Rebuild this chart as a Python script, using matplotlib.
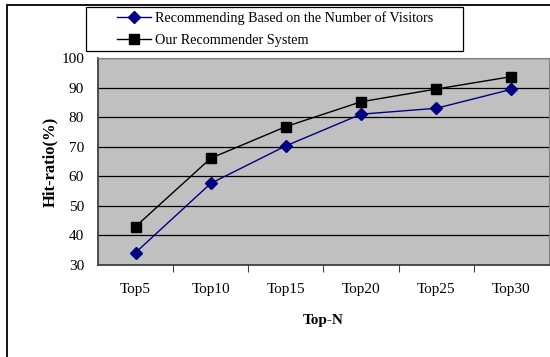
import matplotlib.pyplot as plt
from matplotlib.patches import Rectangle

# data
categories = ['Top5', 'Top10', 'Top15', 'Top20', 'Top25', 'Top30']
visitors = [34.2, 57.6, 70.3, 81.0, 83.0, 89.4]
ours = [43.0, 66.1, 76.8, 85.2, 89.5, 93.7]
yticks = [30, 40, 50, 60, 70, 80, 90, 100]

plt.rcParams['font.family'] = ['Liberation Serif', 'DejaVu Serif']

W, H = 550, 357
fig = plt.figure(figsize=(W / 100, H / 100), dpi=100)

# outer frame (only left and top edges visible)
fig.patches.append(Rectangle((7 / W, -0.1), 1.2, 1.1 - 5 / H,
                             transform=fig.transFigure, fill=False,
                             edgecolor='black', linewidth=1.3))
# legend box
fig.patches.append(Rectangle((86 / W, 1 - 51 / H), 377 / W, 44 / H,
                             transform=fig.transFigure, fill=False,
                             edgecolor='black', linewidth=0.9))

ax = fig.add_axes([98 / W, 1 - 265 / H, 451 / W, 207 / H])
ax.set_facecolor('#c0c0c0')

x = list(range(len(categories)))
ax.plot(x, visitors, color='#000080', lw=1, marker='D', ms=6,
        markerfacecolor='#000080', markeredgecolor='#000080',
        label='Recommending Based on the Number of Visitors', zorder=3)
ax.plot(x, ours, color='black', lw=1, marker='s', ms=7.5,
        label='Our Recommender System', zorder=3)

ax.set_xlim(-0.5, len(categories) - 0.5)
ax.set_ylim(30, 100)
ax.set_yticks(yticks)
ax.yaxis.grid(True, color='black', lw=0.9)
ax.set_axisbelow(True)

ax.set_xticks([i + 0.5 for i in range(len(categories) - 1)])
ax.set_xticklabels([])
ax.set_xticks(x, minor=True)
ax.set_xticklabels(categories, minor=True)
ax.tick_params(axis='x', which='major', direction='out', length=5, color='#404040')
ax.tick_params(axis='x', which='minor', length=0, pad=13, labelsize=11)
ax.tick_params(axis='y', length=0, labelsize=11, pad=10)

for side in ['left', 'bottom']:
    ax.spines[side].set_color('#404040')
    ax.spines[side].set_linewidth(1.3)
for side in ['top', 'right']:
    ax.spines[side].set_color('#808080')

ax.set_xlabel('Top-N', fontweight='bold', fontsize=11, labelpad=13)
ax.set_ylabel('Hit-ratio(%)', fontweight='bold', fontsize=12, labelpad=2)

leg = fig.legend(loc='upper left', bbox_to_anchor=(117 / W, 1 - 11 / H),
                 fontsize=10.2, frameon=False,
                 borderaxespad=0, borderpad=0, handlelength=2.4,
                 handletextpad=0.28, labelspacing=0.65)

fig.savefig('out.png', dpi=100)
